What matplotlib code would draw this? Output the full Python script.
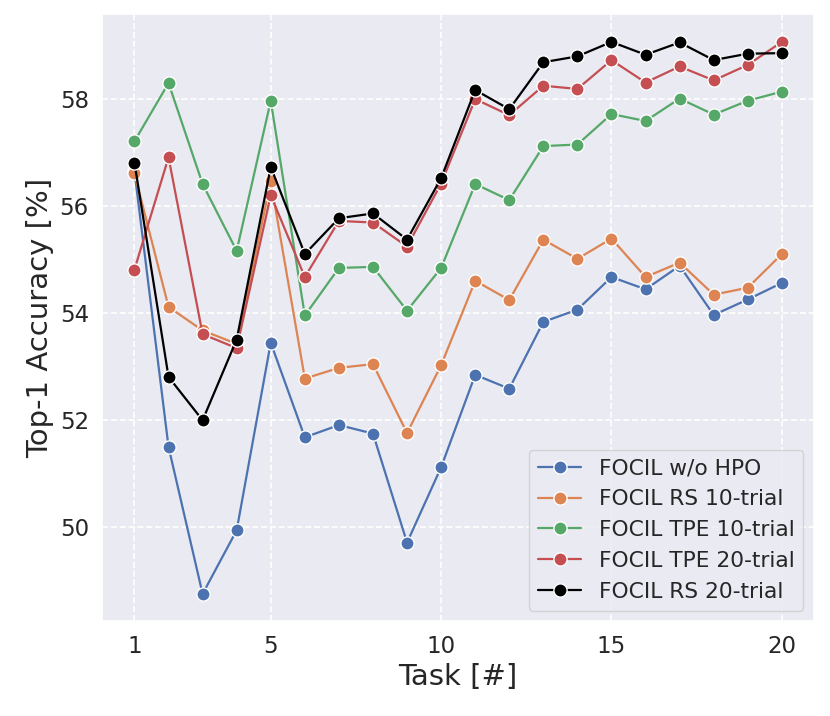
import matplotlib
matplotlib.use("Agg")
import matplotlib.pyplot as plt
import seaborn as sns
import numpy as np

tasks = list(range(1, 21))
wo_hpo = [56.65, 51.49, 48.74, 49.93, 53.44, 51.67, 51.90, 51.74, 49.70, 51.11,
          52.84, 52.58, 53.83, 54.06, 54.67, 54.44, 54.88, 53.96, 54.25, 54.56]
rs_10 = [56.61, 54.11, 53.67, 53.42, 56.46, 52.77, 52.97, 53.04, 51.75, 53.02,
         54.60, 54.24, 55.37, 55.01, 55.39, 54.67, 54.94, 54.34, 54.47, 55.10]
tpe_10 = [57.21, 58.30, 56.41, 55.16, 57.97, 53.95, 54.84, 54.86, 54.04, 54.84,
          56.41, 56.11, 57.12, 57.15, 57.72, 57.59, 58.01, 57.71, 57.97, 58.14]
tpe_20 = [54.81, 56.91, 53.60, 53.34, 56.20, 54.67, 55.72, 55.69, 55.24, 56.42,
          58.00, 57.70, 58.25, 58.19, 58.73, 58.31, 58.61, 58.35, 58.64, 59.07]
rs_20 = [56.81, 52.80, 51.99, 53.50, 56.73, 55.10, 55.77, 55.86, 55.37, 56.52,
         58.17, 57.81, 58.69, 58.80, 59.07, 58.83, 59.06, 58.73, 58.85, 58.86]

labels = ["FOCIL w/o HPO", "FOCIL RS 10-trial", "FOCIL TPE 10-trial",
          "FOCIL TPE 20-trial", "FOCIL RS 20-trial"]
series = [wo_hpo, rs_10, tpe_10, tpe_20, rs_20]
xticks = [1, 5, 10, 15, 20]
yticks = [50, 52, 54, 56, 58]

sns.set_theme(style="darkgrid")
plt.rcParams['font.family'] = ['DejaVu Sans']

pal = sns.color_palette("deep")
colors = [pal[0], pal[1], pal[2], pal[3], "black"]

fig = plt.figure(figsize=(8.3, 7.16), dpi=100)
ax = fig.add_axes([0.123, 0.132, 0.858, 0.848])

for vals, lab, c in zip(series, labels, colors):
    ax.plot(tasks, vals, marker='o', color=c, label=lab, linewidth=1.6,
            markersize=9.5, markeredgecolor='white', markeredgewidth=1.0)

ax.set_xticks(xticks)
ax.set_yticks(yticks)
ax.tick_params(axis='both', labelsize=16.5)
ax.set_xlabel("Task [#]", fontsize=21)
ax.set_ylabel("Top-1 Accuracy [%]", fontsize=21)
ax.grid(True, linestyle='--', color='white', linewidth=1.2)
ax.legend(loc='lower right', fontsize=15.7)

fig.savefig("out.png", dpi=100)
